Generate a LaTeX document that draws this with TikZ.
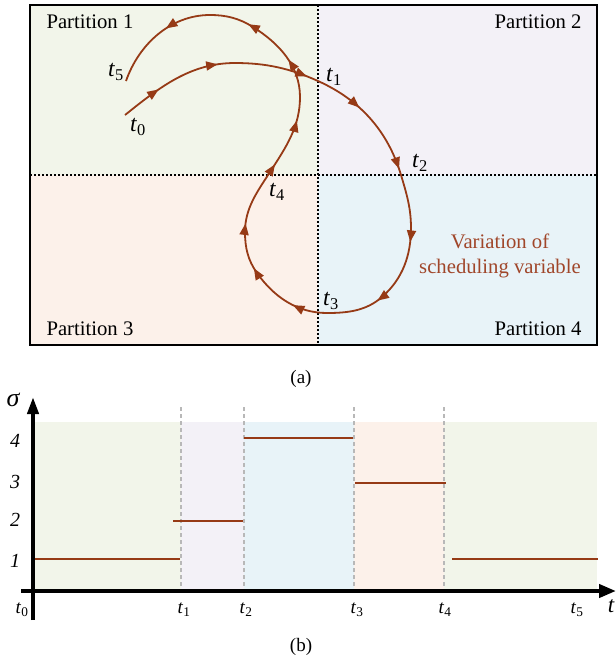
\documentclass[tikz,border=0pt]{standalone}
\usepackage{fontspec}
\setmainfont{Liberation Serif}
\usetikzlibrary{arrows.meta,decorations.markings}
\definecolor{gA}{HTML}{F2F5EA}
\definecolor{pB}{HTML}{F3F1F7}
\definecolor{oC}{HTML}{FCF1EA}
\definecolor{bD}{HTML}{E8F3F8}
\definecolor{traj}{HTML}{963A16}
\definecolor{trajtxt}{HTML}{A0462A}
\newcommand{\tsub}[1]{\textit{t}\textsubscript{#1}}
\tikzset{
  divider/.style={black, line width=1.3pt, dash pattern=on 2.2pt off 1.8pt},
  gdash/.style={black!28, line width=1.3pt, dash pattern=on 4pt off 3pt},
  level/.style={traj, line width=2.8pt},
  axisline/.style={black, line width=4pt},
  trajline/.style={traj, line width=1.8pt},
  arrowat/.style={postaction={decorate, decoration={markings,
     mark=at position #1 with {\arrow{Triangle[length=11.5pt,width=9pt]}}}}},
  biglbl/.style={font=\fontsize{20.7}{25}\selectfont},
  tlbl/.style={font=\fontsize{23.5}{23.5}\selectfont, inner sep=0pt},
  blbl/.style={font=\fontsize{19}{19}\selectfont, inner sep=0pt},
  numlbl/.style={font=\fontsize{20}{20}\selectfont\itshape, inner sep=0pt},
}
\begin{document}
\begin{tikzpicture}[x=1pt,y=-1pt]
\useasboundingbox (0,0) rectangle (616,665);
% ---------- panel (a)
\fill[gA] (30,5) rectangle (318,175);
\fill[pB] (318,5) rectangle (597,175);
\fill[oC] (30,175) rectangle (318,345);
\fill[bD] (318,175) rectangle (597,345);
\draw[divider] (318,5) -- (318,345);
\draw[divider] (30,175) -- (597,175);
\draw[line width=1.6pt] (30,5) rectangle (597,345);
\node[biglbl, anchor=west] (p1) at (43,22) {Partition 1};
\node[biglbl, anchor=east] (p2) at (585,22) {Partition 2};
\node[biglbl, anchor=west] (p3) at (43,329) {Partition 3};
\node[biglbl, anchor=east] (p4) at (585,329) {Partition 4};
\node[biglbl, text=trajtxt, align=center] (var) at (500,256) {Variation of\\scheduling variable};
% key points of the trajectory
\coordinate (K0) at (125,115);
\coordinate (K1) at (235,63);
\coordinate (K2) at (318,81);
\coordinate (K3) at (401,175);
\coordinate (K4) at (411,228);
\coordinate (K5) at (382,297);
\coordinate (K6) at (327,313);
\coordinate (K7) at (257,273);
\coordinate (K8) at (245,232);
\coordinate (K9) at (270,172);
\coordinate (K10) at (300,97);
\coordinate (K11) at (253,27);
\coordinate (K12) at (210,15);
\coordinate (K13) at (126,81);
\draw[trajline, arrowat=0.34, arrowat=0.86] (K0) .. controls (159.8,87.1) and (190.4,63) .. (K1);
\draw[trajline, arrowat=0.86] (K1) .. controls (266,63) and (289.7,68.3) .. (K2);
\draw[trajline, arrowat=0.38, arrowat=0.95] (K2) .. controls (360,99.9) and (387.8,130.9) .. (K3);
\draw[trajline] (K3) .. controls (406.7,194) and (411,208.2) .. (K4);
\draw[trajline, arrowat=0.18] (K4) .. controls (411,255.4) and (402.6,279) .. (K5);
\draw[trajline, arrowat=0.10] (K5) .. controls (366.2,310.8) and (348,313) .. (K6);
\draw[trajline, arrowat=0.42] (K6) .. controls (297.4,313) and (274.1,297.2) .. (K7);
\draw[trajline, arrowat=0.13] (K7) .. controls (247.9,260.2) and (245,247.7) .. (K8);
\draw[trajline, arrowat=0.13] (K8) .. controls (245,208.2) and (257.1,192) .. (K9);
\draw[trajline, arrowat=0.11, arrowat=0.71] (K9) .. controls (286.1,147.1) and (300,126.6) .. (K10);
\draw[trajline, arrowat=0.45] (K10) .. controls (300,66.1) and (279.2,43.4) .. (K11);
\draw[trajline, arrowat=0.12] (K11) .. controls (239.1,18.3) and (226.4,15) .. (K12);
\draw[trajline, arrowat=0.41] (K12) .. controls (170.8,15) and (138.9,44) .. (K13);
\node[tlbl] (a5) at (116,72) {\tsub{5}};
\node[tlbl] (a0) at (138,127) {\tsub{0}};
\node[tlbl] (a1) at (334,77) {\tsub{1}};
\node[tlbl] (a2) at (420,163) {\tsub{2}};
\node[tlbl] (a3) at (331,301) {\tsub{3}};
\node[tlbl] (a4) at (277,192) {\tsub{4}};
\node[blbl] (capa) at (301,379) {(a)};
% ---------- panel (b)
\fill[gA] (33,422) rectangle (181,591);
\fill[pB] (181,422) rectangle (244,591);
\fill[bD] (244,422) rectangle (354,591);
\fill[oC] (354,422) rectangle (444,591);
\fill[gA] (444,422) rectangle (597,591);
\foreach \xx in {181,244,354,444} \draw[gdash] (\xx,407) -- (\xx,591);
\draw[level] (33,559) -- (180,559);
\draw[level] (173,521) -- (243,521);
\draw[level] (244,438) -- (353,438);
\draw[level] (355,483) -- (446,483);
\draw[level] (452,559) -- (598,559);
\draw[axisline, -{Triangle[length=17pt,width=13pt]}] (21,591) -- (616,591);
\draw[axisline, -{Triangle[length=17pt,width=11pt]}] (33,620) -- (33,397);
\node[numlbl] (n4) at (15,441) {4};
\node[numlbl] (n3) at (15,482) {3};
\node[numlbl] (n2) at (15,520) {2};
\node[numlbl] (n1) at (15,561) {1};
\node[font=\fontsize{26}{26}\selectfont\itshape, inner sep=0pt] (sig) at (13,400) {σ};
\node[font=\fontsize{23}{23}\selectfont\itshape, inner sep=0pt] (tt) at (611,606) {t};
\node[blbl] (b0) at (22,610) {\tsub{0}};
\node[blbl] (b1) at (184,610) {\tsub{1}};
\node[blbl] (b2) at (246,610) {\tsub{2}};
\node[blbl] (b3) at (357,610) {\tsub{3}};
\node[blbl] (b4) at (445,610) {\tsub{4}};
\node[blbl] (b5) at (577,610) {\tsub{5}};
\node[blbl] (capb) at (301,647) {(b)};
\end{tikzpicture}
\end{document}
